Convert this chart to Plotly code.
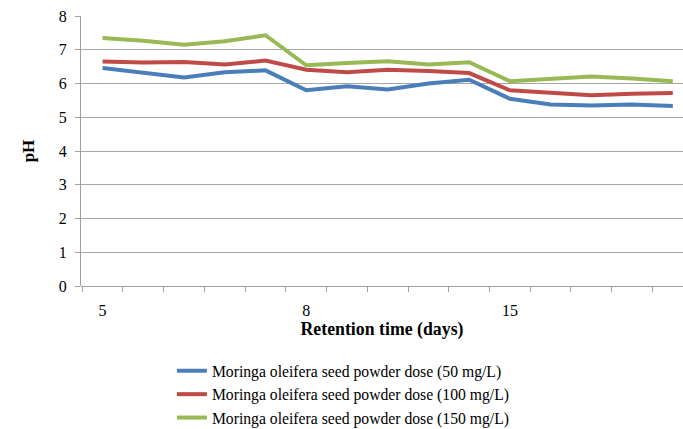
import plotly.graph_objects as go

days_idx = list(range(15))
tick_positions = [0, 5, 10]
tick_labels = ["5", "8", "15"]

ph_50 = [6.46, 6.32, 6.18, 6.33, 6.39, 5.80, 5.92, 5.82, 6.00, 6.11, 5.55, 5.38, 5.35, 5.38, 5.33]
ph_100 = [6.65, 6.62, 6.64, 6.56, 6.68, 6.41, 6.33, 6.41, 6.37, 6.31, 5.80, 5.72, 5.65, 5.70, 5.72]
ph_150 = [7.35, 7.27, 7.15, 7.25, 7.43, 6.54, 6.61, 6.66, 6.56, 6.63, 6.07, 6.13, 6.21, 6.15, 6.07]

series = [
    ("Moringa oleifera seed powder dose (50 mg/L)", ph_50, "#4a7ebb"),
    ("Moringa oleifera seed powder dose (100 mg/L)", ph_100, "#be4b48"),
    ("Moringa oleifera seed powder dose (150 mg/L)", ph_150, "#98b954"),
]

fig = go.Figure()
for name, vals, color in series:
    fig.add_trace(go.Scatter(x=days_idx, y=vals, mode="lines", name=name,
                             line=dict(color=color, width=4)))

font_family = "'Liberation Serif', 'Times New Roman', Tinos, serif"
fig.update_layout(
    width=683, height=429,
    margin=dict(l=81, r=0, t=16, b=143, autoexpand=False),
    paper_bgcolor="white", plot_bgcolor="white",
    font=dict(family=font_family, size=16, color="#000000"),
    showlegend=True,
    legend=dict(x=0.151, y=-0.252, xanchor="left", yanchor="top",
                font=dict(family=font_family, size=15.7), tracegroupgap=0),
    xaxis=dict(
        automargin=False,
        range=[-0.53, 14.25],
        tickmode="array", tickvals=tick_positions, ticktext=tick_labels,
        ticks="", showgrid=False, zeroline=False,
        showline=False, ticklabelstandoff=13,
        minor=dict(ticks="outside", ticklen=5, tickcolor="#a0a0a0",
                   tickmode="linear", tick0=0.5, dtick=1, showgrid=False),
        title=dict(text="<b>Retention time (days)</b>", font=dict(size=17.8), standoff=4),
        tickfont=dict(size=16),
    ),
    yaxis=dict(
        automargin=False,
        range=[0, 8], dtick=1, tick0=0,
        showgrid=True, gridcolor="#a6a6a6", gridwidth=1,
        zeroline=True, zerolinecolor="#a0a0a0", zerolinewidth=1,
        showline=True, linecolor="#a0a0a0", linewidth=1,
        ticks="outside", ticklen=5, tickcolor="#a0a0a0", ticklabelstandoff=5,
        title=dict(text="<b>pH</b>", font=dict(size=17), standoff=19),
        tickfont=dict(size=16),
    ),
)

fig.write_html("out.html", config={"displayModeBar": False},
               post_script="document.body.style.margin='0';document.body.style.padding='0';")
